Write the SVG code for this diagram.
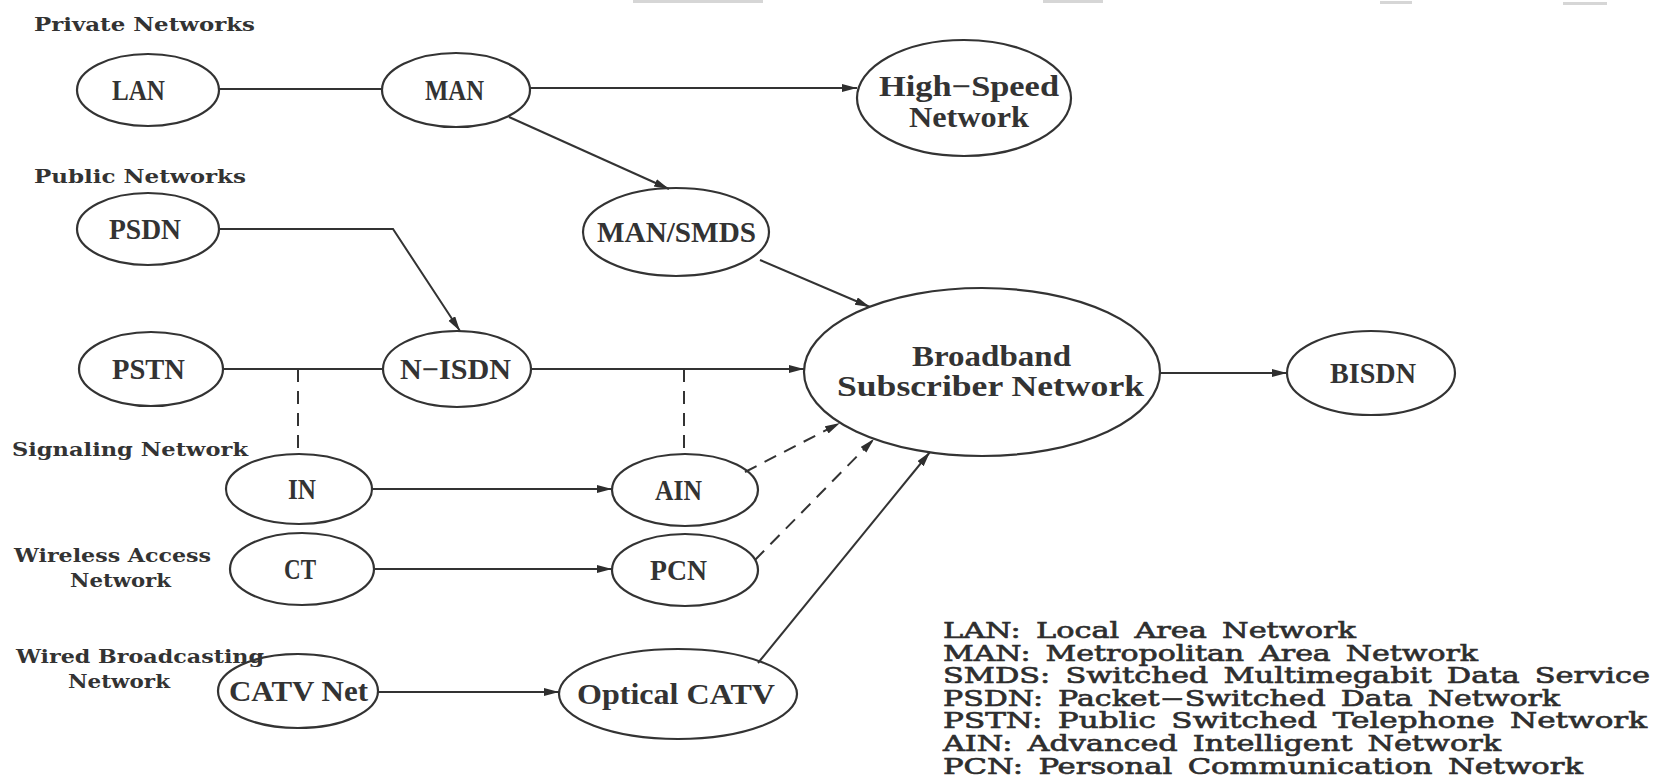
<svg xmlns="http://www.w3.org/2000/svg" width="1655" height="777" viewBox="0 0 1655 777">
  <defs>
    <marker id="arrow" markerUnits="userSpaceOnUse" markerWidth="16" markerHeight="10" refX="15" refY="4" orient="auto">
      <path d="M0,0 L15,4 L0,8 z" fill="#2e2e2e"/>
    </marker>
    <style>
      .node ellipse { fill: none; stroke: #333; stroke-width: 2.2; }
      .lbl { font-family: "Liberation Serif", "DejaVu Serif", serif; font-size: 29px; font-weight: bold; fill: #333; }
      .sec { font-family: "DejaVu Serif", "Liberation Serif", serif; font-size: 19px; font-weight: bold; fill: #333; }
      .leg { font-family: "DejaVu Serif", "Liberation Serif", serif; font-size: 22px; fill: #2e2e2e; stroke: #2e2e2e; stroke-width: 0.65; word-spacing: 4px; }
      .edge { fill: none; stroke: #333; stroke-width: 2; }
      .arr { marker-end: url(#arrow); }
      .dash { stroke-dasharray: 13 9; }
      .mark { fill: #d6d6d6; }
    </style>
  </defs>
  <rect width="1655" height="777" fill="#ffffff"/>

  <!-- faint marks along the top edge -->
  <g id="top-marks">
    <rect class="mark" x="633" y="0" width="130" height="3"/>
    <rect class="mark" x="1043" y="0" width="60" height="3"/>
    <rect class="mark" x="1380" y="1" width="32" height="3"/>
    <rect class="mark" x="1563" y="2" width="44" height="3"/>
  </g>

  <!-- section headings -->
  <g id="sections">
    <text class="sec" x="34" y="31" textLength="221" lengthAdjust="spacingAndGlyphs">Private Networks</text>
    <text class="sec" x="34" y="183" textLength="212" lengthAdjust="spacingAndGlyphs">Public Networks</text>
    <text class="sec" x="12" y="456" textLength="236" lengthAdjust="spacingAndGlyphs">Signaling Network</text>
    <text class="sec" x="14" y="562" textLength="197" lengthAdjust="spacingAndGlyphs">Wireless Access</text>
    <text class="sec" x="70" y="587" textLength="101" lengthAdjust="spacingAndGlyphs">Network</text>
    <text class="sec" x="16" y="663" textLength="248" lengthAdjust="spacingAndGlyphs">Wired Broadcasting</text>
    <text class="sec" x="68" y="688" textLength="102" lengthAdjust="spacingAndGlyphs">Network</text>
  </g>

  <!-- connectors -->
  <g id="connectors">
    <line class="edge" x1="219" y1="89" x2="382" y2="89"/>
    <line class="edge arr" x1="530" y1="88" x2="857" y2="88"/>
    <line class="edge arr" x1="509" y1="117" x2="669" y2="189"/>
    <polyline class="edge arr" points="219,229 393,229 460,331"/>
    <line class="edge arr" x1="760" y1="260" x2="870" y2="307"/>
    <line class="edge" x1="223" y1="369" x2="383" y2="369"/>
    <line class="edge dash" x1="298" y1="369" x2="298" y2="454"/>
    <line class="edge arr" x1="531" y1="369" x2="804" y2="369"/>
    <line class="edge dash" x1="684" y1="369" x2="684" y2="454"/>
    <line class="edge arr" x1="1160" y1="373" x2="1287" y2="373"/>
    <line class="edge arr" x1="372" y1="489" x2="612" y2="489"/>
    <line class="edge dash arr" x1="745" y1="472" x2="840" y2="423"/>
    <line class="edge arr" x1="374" y1="569" x2="612" y2="569"/>
    <line class="edge dash arr" x1="755" y1="560" x2="874" y2="439"/>
    <line class="edge arr" x1="378" y1="692" x2="559" y2="692"/>
    <line class="edge arr" x1="758" y1="663" x2="930" y2="452"/>
  </g>

  <!-- nodes -->
  <g id="LAN" class="node">
    <ellipse cx="148" cy="90" rx="71" ry="36"/>
    <text class="lbl" x="112" y="100" textLength="53" lengthAdjust="spacingAndGlyphs">LAN</text>
  </g>
  <g id="MAN" class="node">
    <ellipse cx="456" cy="90" rx="74" ry="37"/>
    <text class="lbl" x="425" y="100" textLength="59" lengthAdjust="spacingAndGlyphs">MAN</text>
  </g>
  <g id="HighSpeed" class="node">
    <ellipse cx="964" cy="98" rx="107" ry="58"/>
    <text class="lbl" x="879" y="96" textLength="180" lengthAdjust="spacingAndGlyphs">High−Speed</text>
    <text class="lbl" x="909" y="127" textLength="120" lengthAdjust="spacingAndGlyphs">Network</text>
  </g>
  <g id="PSDN" class="node">
    <ellipse cx="148" cy="229" rx="71" ry="36"/>
    <text class="lbl" x="109" y="239" textLength="72" lengthAdjust="spacingAndGlyphs">PSDN</text>
  </g>
  <g id="MANSMDS" class="node">
    <ellipse cx="676" cy="232" rx="93" ry="44"/>
    <text class="lbl" x="597" y="242" textLength="159" lengthAdjust="spacingAndGlyphs">MAN/SMDS</text>
  </g>
  <g id="PSTN" class="node">
    <ellipse cx="151" cy="369" rx="72" ry="37"/>
    <text class="lbl" x="112" y="379" textLength="73" lengthAdjust="spacingAndGlyphs">PSTN</text>
  </g>
  <g id="NISDN" class="node">
    <ellipse cx="457" cy="369" rx="74" ry="38"/>
    <text class="lbl" x="400" y="379" textLength="111" lengthAdjust="spacingAndGlyphs">N−ISDN</text>
  </g>
  <g id="Broadband" class="node">
    <ellipse cx="982" cy="372" rx="178" ry="84"/>
    <text class="lbl" x="912" y="366" textLength="159" lengthAdjust="spacingAndGlyphs">Broadband</text>
    <text class="lbl" x="837" y="396" textLength="307" lengthAdjust="spacingAndGlyphs">Subscriber  Network</text>
  </g>
  <g id="BISDN" class="node">
    <ellipse cx="1371" cy="373" rx="84" ry="42"/>
    <text class="lbl" x="1330" y="383" textLength="86" lengthAdjust="spacingAndGlyphs">BISDN</text>
  </g>
  <g id="IN" class="node">
    <ellipse cx="299" cy="489" rx="73" ry="35"/>
    <text class="lbl" x="288" y="499" textLength="28" lengthAdjust="spacingAndGlyphs">IN</text>
  </g>
  <g id="AIN" class="node">
    <ellipse cx="685" cy="490" rx="73" ry="36"/>
    <text class="lbl" x="655" y="500" textLength="47" lengthAdjust="spacingAndGlyphs">AIN</text>
  </g>
  <g id="CT" class="node">
    <ellipse cx="302" cy="569" rx="72" ry="36"/>
    <text class="lbl" x="284" y="579" textLength="32" lengthAdjust="spacingAndGlyphs">CT</text>
  </g>
  <g id="PCN" class="node">
    <ellipse cx="685" cy="570" rx="73" ry="36"/>
    <text class="lbl" x="650" y="580" textLength="57" lengthAdjust="spacingAndGlyphs">PCN</text>
  </g>
  <g id="CATVNet" class="node">
    <ellipse cx="298" cy="691" rx="80" ry="37"/>
    <text class="lbl" x="229" y="701" textLength="139" lengthAdjust="spacingAndGlyphs">CATV  Net</text>
  </g>
  <g id="OpticalCATV" class="node">
    <ellipse cx="678" cy="694" rx="119" ry="45"/>
    <text class="lbl" x="577" y="704" textLength="198" lengthAdjust="spacingAndGlyphs">Optical  CATV</text>
  </g>

  <!-- abbreviation key -->
  <g id="legend">
    <text class="leg" x="943" y="638" textLength="413" lengthAdjust="spacingAndGlyphs">LAN: Local Area Network</text>
    <text class="leg" x="943" y="660.6" textLength="535" lengthAdjust="spacingAndGlyphs">MAN: Metropolitan Area Network</text>
    <text class="leg" x="943" y="683.2" textLength="707" lengthAdjust="spacingAndGlyphs">SMDS: Switched Multimegabit Data Service</text>
    <text class="leg" x="943" y="705.8" textLength="617" lengthAdjust="spacingAndGlyphs">PSDN: Packet−Switched Data Network</text>
    <text class="leg" x="943" y="728.4" textLength="704" lengthAdjust="spacingAndGlyphs">PSTN: Public Switched Telephone Network</text>
    <text class="leg" x="943" y="751" textLength="558" lengthAdjust="spacingAndGlyphs">AIN: Advanced Intelligent Network</text>
    <text class="leg" x="943" y="773.6" textLength="640" lengthAdjust="spacingAndGlyphs">PCN: Personal Communication Network</text>
  </g>
</svg>
